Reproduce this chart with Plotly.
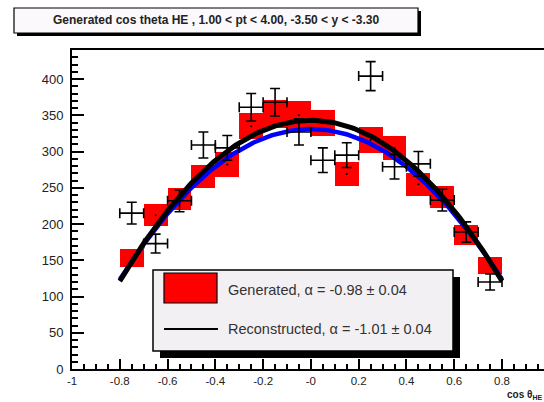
import numpy as np
import plotly.graph_objects as go

# ---- data ----
bin_centers = [-0.75, -0.65, -0.55, -0.45, -0.35, -0.25, -0.15, -0.05,
               0.05, 0.15, 0.25, 0.35, 0.45, 0.55, 0.65, 0.75]
generated = [153, 212, 235, 266, 282, 335, 352, 350, 339, 269, 316, 305, 255, 237, 185, 143]
generated_err = [12, 15, 15, 16, 17, 18, 19, 19, 18, 16, 18, 17, 16, 15, 14, 12]
reconstructed = [215, 173, 232, 309, 305, 361, 368, 327, 288, 295, 404, 279, 283, 233, 189, 120]
reconstructed_err = [15, 13, 15, 18, 17, 19, 19, 18, 17, 17, 20, 17, 17, 15, 14, 11]
bin_half_width = 0.05

# fit parameters: A * (1 + alpha * x^2)
fit_gen_A, fit_gen_alpha = 331, -0.98
fit_rec_A, fit_rec_alpha = 343, -1.01
fit_x_min, fit_x_max = -0.8, 0.8

x_tickvals = [-1, -0.8, -0.6, -0.4, -0.2, 0, 0.2, 0.4, 0.6, 0.8]
x_ticktext = ["-1", "-0.8", "-0.6", "-0.4", "-0.2", "-0", "0.2", "0.4", "0.6", "0.8"]
y_tickvals = [0, 50, 100, 150, 200, 250, 300, 350, 400]

title_text = "Generated cos theta HE , 1.00 < pt < 4.00, -3.50 < y < -3.30"
legend_gen = "Generated, α = -0.98 ± 0.04"
legend_rec = "Reconstructed, α = -1.01 ± 0.04"

# ---- geometry (pixels) ----
W, H = 544, 402
L, R, T, B = 72, 544, 50, 369


def px(x):
    return (x - L) / (R - L)


def py(y):
    return (B - y) / (B - T)


fig = go.Figure()

# red error boxes (generated histogram, E2 style)
fig.add_trace(go.Bar(
    x=bin_centers,
    y=[2 * e for e in generated_err],
    base=[g - e for g, e in zip(generated, generated_err)],
    width=2 * bin_half_width,
    marker=dict(color="#ff0000", line=dict(width=0)),
    showlegend=False, hoverinfo="skip",
))
fig.add_trace(go.Scatter(
    x=bin_centers, y=generated, mode="markers",
    marker=dict(color="black", size=2), showlegend=False, hoverinfo="skip",
))

# fit curves
xs = np.linspace(fit_x_min, fit_x_max, 200)
fig.add_trace(go.Scatter(
    x=xs, y=fit_gen_A * (1 + fit_gen_alpha * xs ** 2), mode="lines",
    line=dict(color="#0000ff", width=4.5), showlegend=False, hoverinfo="skip",
))
fig.add_trace(go.Scatter(
    x=xs, y=fit_rec_A * (1 + fit_rec_alpha * xs ** 2), mode="lines",
    line=dict(color="black", width=5), showlegend=False, hoverinfo="skip",
))

# reconstructed points with error crosses
fig.add_trace(go.Scatter(
    x=bin_centers, y=reconstructed, mode="markers",
    marker=dict(color="black", size=2),
    error_x=dict(type="constant", value=bin_half_width, color="black", thickness=1.6, width=5),
    error_y=dict(type="data", array=reconstructed_err, color="black", thickness=1.6, width=5),
    showlegend=False, hoverinfo="skip",
))

shapes = []
annotations = []

# title box with shadow
shapes.append(dict(type="rect", xref="paper", yref="paper",
                   x0=px(17), x1=px(421), y0=py(11), y1=py(36),
                   fillcolor="black", line=dict(width=0), layer="above"))
shapes.append(dict(type="rect", xref="paper", yref="paper",
                   x0=px(14), x1=px(418), y0=py(8), y1=py(33),
                   fillcolor="#fcf9fc", line=dict(color="black", width=1.2), layer="above"))
annotations.append(dict(xref="paper", yref="paper", x=px(216), y=py(20.5),
                        text="<b>" + title_text + "</b>", showarrow=False,
                        font=dict(family="Liberation Sans", size=12, color="#222"),
                        xanchor="center", yanchor="middle"))

# legend box with shadow
shapes.append(dict(type="rect", xref="paper", yref="paper",
                   x0=px(160), x1=px(460), y0=py(277), y1=py(358),
                   fillcolor="black", line=dict(width=0), layer="above"))
shapes.append(dict(type="rect", xref="paper", yref="paper",
                   x0=px(153), x1=px(453), y0=py(270), y1=py(351),
                   fillcolor="#f3f0f4", line=dict(color="black", width=1.5), layer="above"))
shapes.append(dict(type="rect", xref="paper", yref="paper",
                   x0=px(164), x1=px(217), y0=py(273), y1=py(303),
                   fillcolor="#ff0000", line=dict(color="black", width=1.2), layer="above"))
shapes.append(dict(type="line", xref="paper", yref="paper",
                   x0=px(164), x1=px(218), y0=py(329), y1=py(329),
                   line=dict(color="black", width=1.8), layer="above"))
annotations.append(dict(xref="paper", yref="paper", x=px(226), y=py(290),
                        text=legend_gen, showarrow=False,
                        font=dict(family="Liberation Sans", size=14.5, color="#333"),
                        xanchor="left", yanchor="middle"))
annotations.append(dict(xref="paper", yref="paper", x=px(226), y=py(329),
                        text=legend_rec, showarrow=False,
                        font=dict(family="Liberation Sans", size=14.5, color="#333"),
                        xanchor="left", yanchor="middle"))

# x axis title
annotations.append(dict(xref="paper", yref="paper", x=px(543), y=py(401.5),
                        text="<b>cos θ<sub>HE</sub></b>", showarrow=False,
                        font=dict(family="Liberation Sans", size=10, color="#222"),
                        xanchor="right", yanchor="bottom", borderpad=0))

fig.update_layout(
    width=W, height=H,
    margin=dict(l=L, r=W - R, t=T, b=H - B, pad=0),
    paper_bgcolor="white", plot_bgcolor="white",
    shapes=shapes, annotations=annotations,
    bargap=0, showlegend=False,
    font=dict(family="Liberation Sans", color="#222"),
)
fig.update_xaxes(
    range=[-1, -1 + (R - L) / 238.9],
    tickvals=x_tickvals, ticktext=x_ticktext,
    ticks="inside", ticklen=10, tickwidth=2, tickcolor="black",
    minor=dict(dtick=0.05, tick0=0, ticks="inside", ticklen=5, tickwidth=2, tickcolor="black"),
    showline=True, linecolor="black", linewidth=2, mirror=True,
    showgrid=False, zeroline=False,
    tickfont=dict(family="Liberation Sans", size=11.5, color="#222"),
)
fig.update_yaxes(
    range=[0, 440],
    tickvals=y_tickvals,
    ticks="inside", ticklen=12, tickwidth=2, tickcolor="black",
    minor=dict(dtick=10, tick0=0, ticks="inside", ticklen=6, tickwidth=2, tickcolor="black"),
    showline=True, linecolor="black", linewidth=2, mirror=False,
    showgrid=False, zeroline=False,
    ticklabelstandoff=4,
    tickfont=dict(family="Liberation Sans", size=13, color="#222"),
)

fig.write_html("out.html")
